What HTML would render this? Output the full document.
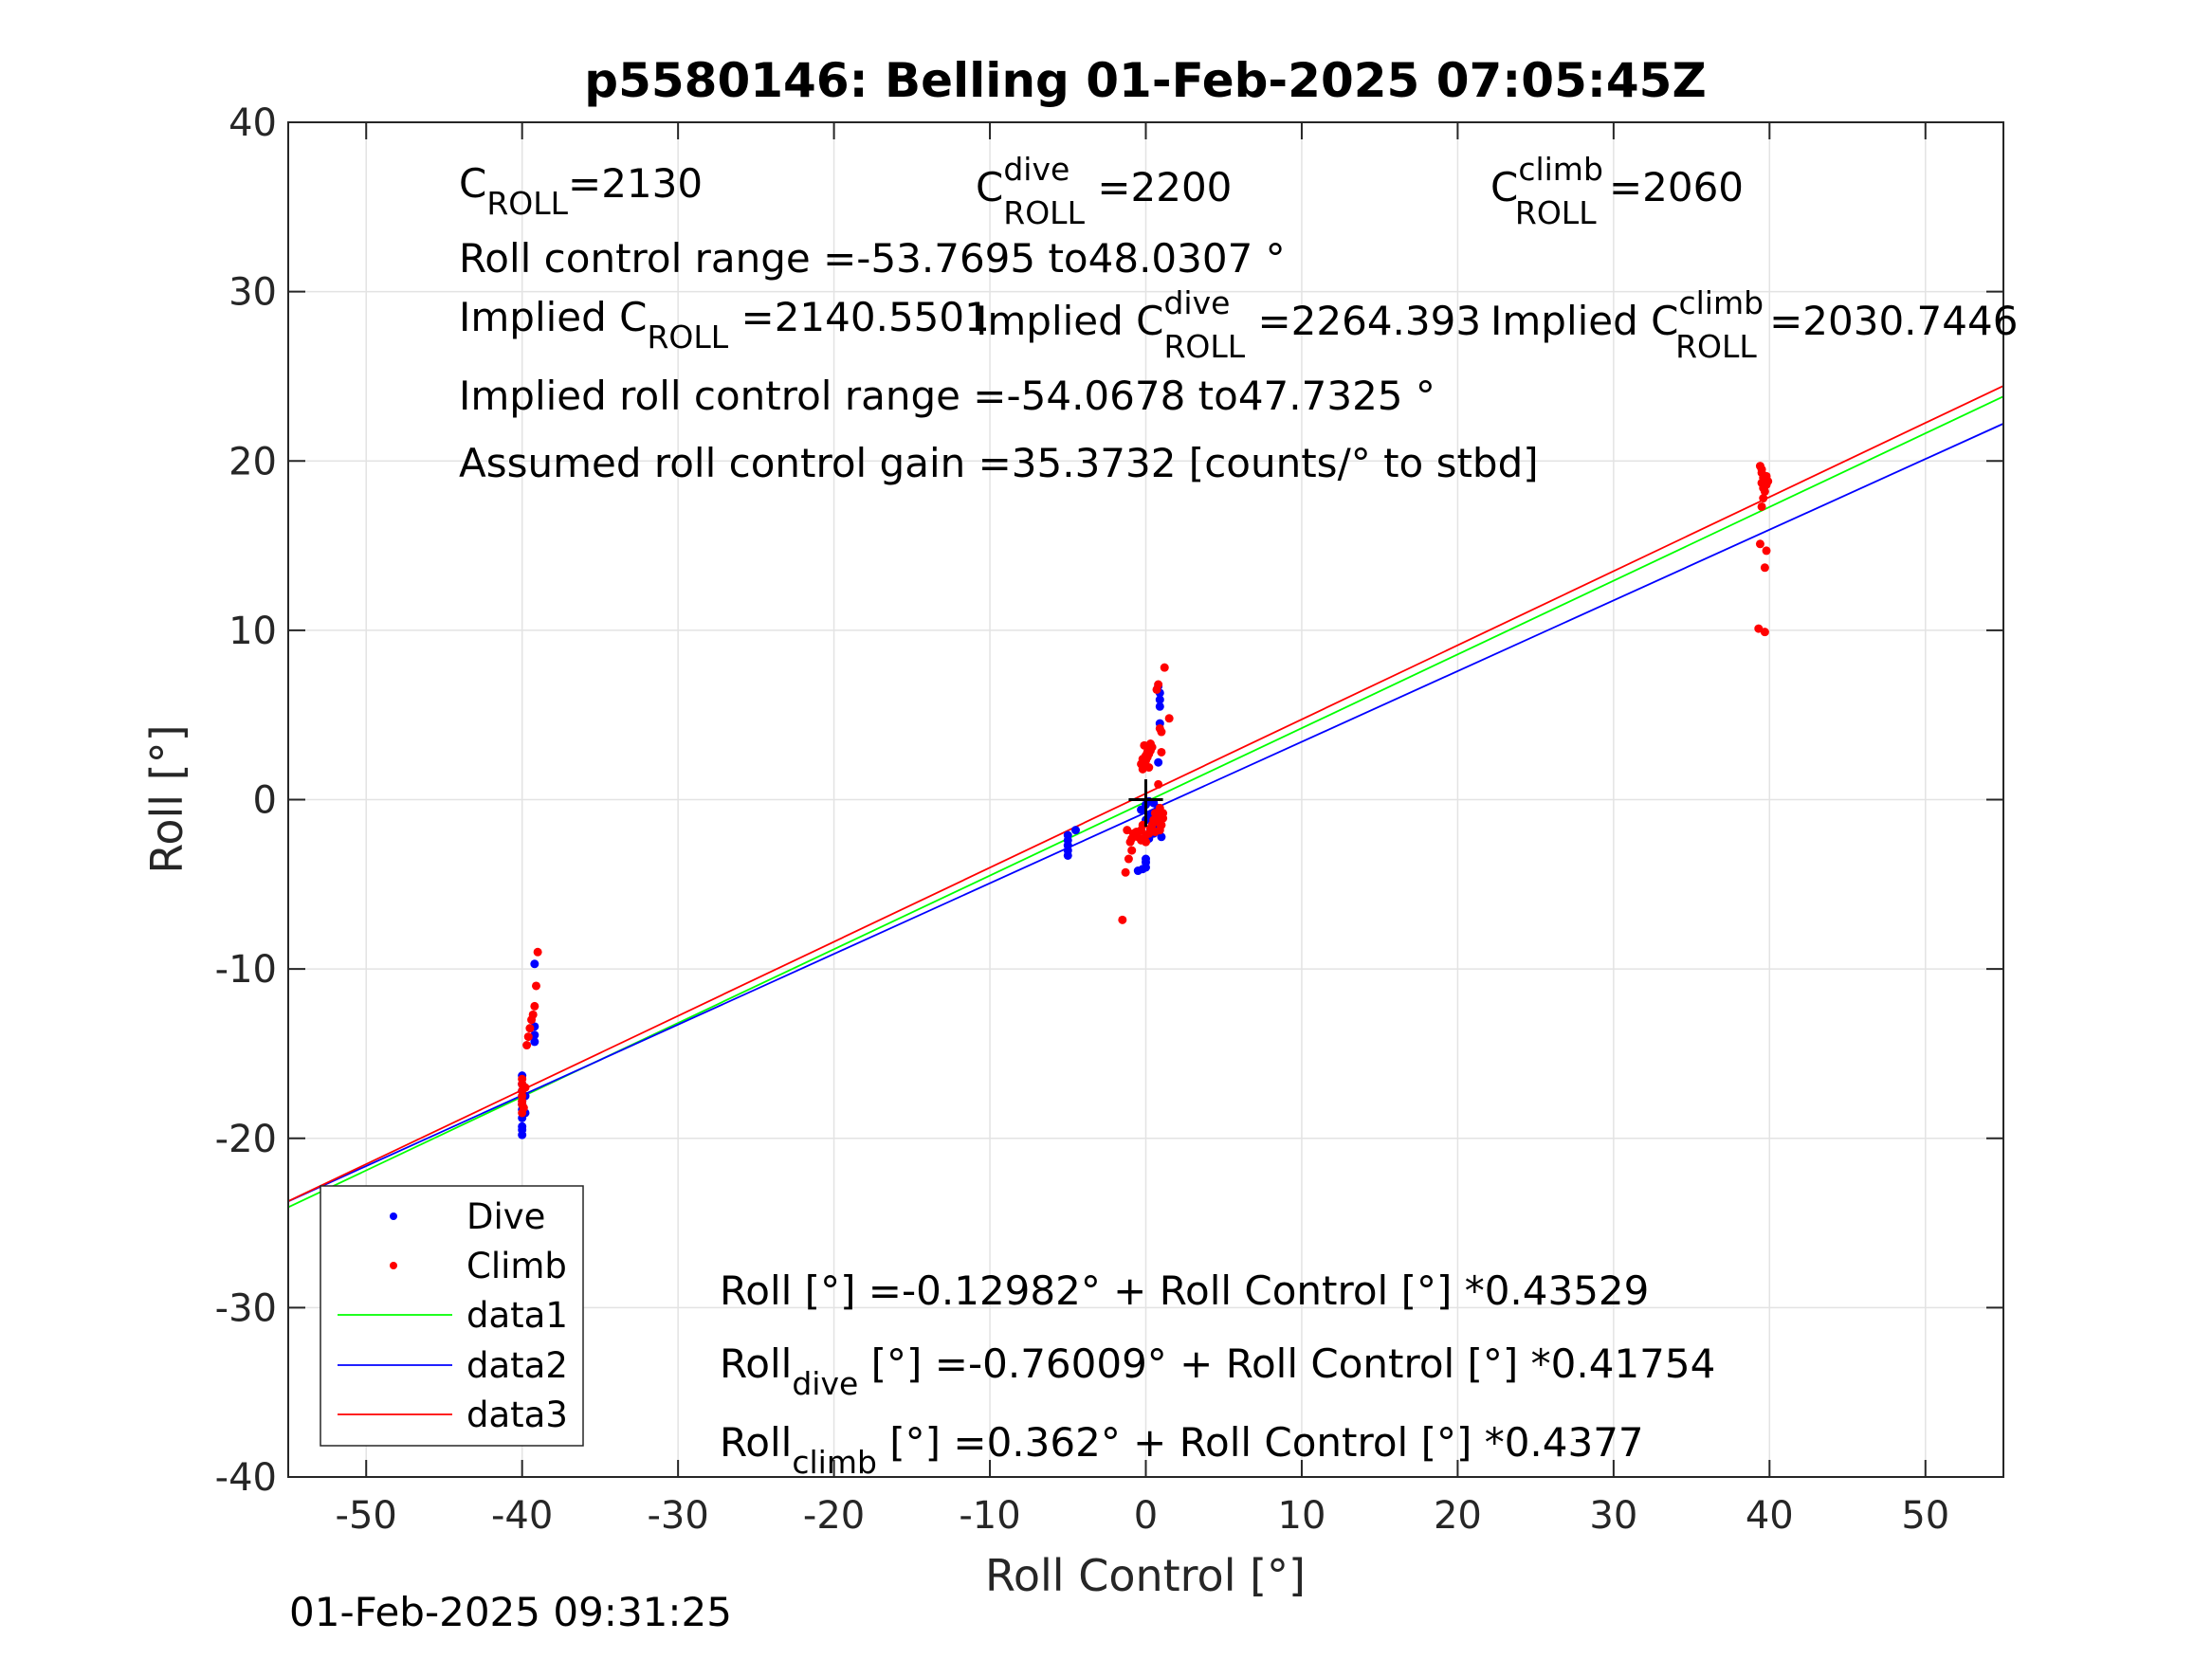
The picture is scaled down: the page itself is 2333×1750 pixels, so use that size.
<!DOCTYPE html>
<html><head><meta charset="utf-8"><style>
html,body{margin:0;padding:0;background:#fff;}
svg{display:block;font-family:"DejaVu Sans","Liberation Sans",sans-serif;}
</style></head><body>
<svg id="chart" width="2333" height="1750" viewBox="0 0 2333 1750" xmlns="http://www.w3.org/2000/svg">
<rect width="2333" height="1750" fill="#fff"/>
<g id="grid"></g>
<g id="lines"></g>
<g id="pts"></g>
<g id="axes"></g>
<text x="1208" y="102" text-anchor="middle" font-size="50" font-weight="bold">p5580146: Belling 01-Feb-2025 07:05:45Z</text>
<text x="1208" y="1678" text-anchor="middle" font-size="46" fill="#262626">Roll Control [°]</text>
<text transform="translate(192,843) rotate(-90)" text-anchor="middle" font-size="46" fill="#262626">Roll [°]</text>
<text x="305" y="1715" font-size="42">01-Feb-2025 09:31:25</text>
<g font-size="42" fill="#000">
<text x="484" y="208">C<tspan font-size="33" dy="18">ROLL</tspan><tspan dy="-18">=2130</tspan></text>
<text x="1029" y="212">C<tspan font-size="33" dy="-22">dive</tspan><tspan font-size="33" dx="-70" dy="46">ROLL</tspan><tspan dy="-24"> =2200</tspan></text>
<text x="1572" y="212">C<tspan font-size="33" dy="-22">climb</tspan><tspan font-size="33" dx="-93" dy="46">ROLL</tspan><tspan dy="-24"> =2060</tspan></text>
<text x="484" y="287">Roll control range =-53.7695 to48.0307 °</text>
<text x="484" y="349">Implied C<tspan font-size="33" dy="18">ROLL</tspan><tspan dy="-18"> =2140.5501</tspan></text>
<text x="1029" y="353">Implied C<tspan font-size="33" dy="-22">dive</tspan><tspan font-size="33" dx="-70" dy="46">ROLL</tspan><tspan dy="-24"> =2264.393</tspan></text>
<text x="1572" y="353">Implied C<tspan font-size="33" dy="-22">climb</tspan><tspan font-size="33" dx="-93" dy="46">ROLL</tspan><tspan dy="-24"> =2030.7446</tspan></text>
<text x="484" y="432">Implied roll control range =-54.0678 to47.7325 °</text>
<text x="484" y="503">Assumed roll control gain =35.3732 [counts/° to stbd]</text>
<text x="759" y="1376">Roll [°] =-0.12982° + Roll Control [°] *0.43529</text>
<text x="759" y="1453">Roll<tspan font-size="33" dy="18">dive</tspan><tspan dy="-18"> [°] =-0.76009° + Roll Control [°] *0.41754</tspan></text>
<text x="759" y="1536">Roll<tspan font-size="33" dy="18">climb</tspan><tspan dy="-18"> [°] =0.362° + Roll Control [°] *0.4377</tspan></text>
</g>
<g>
<rect x="338" y="1251" width="277" height="274" fill="#fff" stroke="#262626" stroke-width="1.5"/>
<circle cx="415" cy="1283" r="4" fill="#00f"/>
<text x="492" y="1296" font-size="37">Dive</text>
<circle cx="415" cy="1335" r="4" fill="#f00"/>
<text x="492" y="1348" font-size="37">Climb</text>
<line x1="356" y1="1387" x2="477" y2="1387" stroke="#0f0" stroke-width="1.8"/>
<text x="492" y="1400" font-size="37">data1</text>
<line x1="356" y1="1440" x2="477" y2="1440" stroke="#00f" stroke-width="1.8"/>
<text x="492" y="1453" font-size="37">data2</text>
<line x1="356" y1="1492" x2="477" y2="1492" stroke="#f00" stroke-width="1.8"/>
<text x="492" y="1505" font-size="37">data3</text>
</g>
</svg>
<script>
const xTicks=[-50,-40,-30,-20,-10,0,10,20,30,40,50];
const yTicks=[-40,-30,-20,-10,0,10,20,30,40];
const fitIntercepts=[-0.12982,-0.76009,0.362];
const fitSlopes=[0.43529,0.41754,0.4377];
const fitColors=['#0f0','#00f','#f00'];
const diveX=[-40,-40,-40,-40,-40,-40,-40,-40,-40,-40,-39.8,-39.8,-39.2,-39.2,-39.2,-39.2,-5,-5,-5,-5,-5,-4.5,-0.5,-0.2,0,0,0,0.2,0.3,0,-0.3,0.5,0.8,0.9,0.9,0.9,0.9,0.8,1,0.5,0.3,0,0.5,0.8,1,0.2,0.6];
const diveY=[-19.8,-19.5,-19.3,-18.8,-18.3,-17.8,-17.2,-16.8,-16.3,-18,-17.5,-18.5,-13.4,-13.9,-14.3,-9.7,-3.3,-3,-2.7,-2.4,-2.1,-1.8,-4.2,-4.1,-4,-3.7,-3.5,-2.3,-1.8,-1.2,-0.6,-0.2,2.2,4.5,5.5,5.9,6.3,6.7,-2.2,-1.5,-0.9,-0.3,-2,-0.5,-1,-0.1,-1.2];
const climbX=[-40,-40,-40,-40,-40,-40,-40,-39.9,-39.8,-39.7,-39.6,-39.5,-39.4,-39.3,-39.2,-39.1,-39,-1.5,-1.3,-1.1,-0.9,-1,-0.8,-0.5,-0.3,-0.2,0,0.2,0.4,0.5,0.7,0.9,1,1.1,-1.2,-0.9,-0.6,-0.3,0,0.3,0.6,0.9,1.1,-0.2,-0.1,0,0.1,0.2,0.3,0.4,-0.3,-0.2,0,0.1,0.3,0.2,-0.1,0.8,0.9,1,1.5,0.7,0.8,1.2,1,0.9,0.6,0.9,39.4,39.5,39.6,39.5,39.6,39.7,39.8,39.9,39.6,39.5,39.7,39.4,39.8,39.7,39.3,39.7,39.5,39.8];
const climbY=[-18.5,-18,-17.5,-17.2,-16.8,-16.5,-17.8,-18.2,-17,-14.5,-14,-13.5,-13,-12.7,-12.2,-11,-9,-7.1,-4.3,-3.5,-3,-2.5,-2,-2.2,-1.8,-1.5,-2.5,-2,-1.5,-1.2,-1,-1.2,-1.5,-0.8,-1.8,-2.3,-1.9,-2.4,-2.1,-1.7,-1.9,-1.4,-1.1,1.8,2.1,2.3,2.5,2.7,2.9,3.1,2.1,2.4,2.6,2.8,3.3,1.9,3.2,0.9,4.2,4,4.8,6.5,6.8,7.8,2.8,-0.5,-0.8,-1.8,19.7,19.3,19,18.7,18.4,18.9,19.1,18.8,17.8,17.3,18.2,15.1,14.7,13.7,10.1,9.9,19.5,18.6];
const L=304,R=2113,T=129,B=1558,XMIN=-55,XMAX=55,YMIN=-40,YMAX=40;
const sx=v=>L+(v-XMIN)/(XMAX-XMIN)*(R-L);
const sy=v=>B-(v-YMIN)/(YMAX-YMIN)*(B-T);
const NS='http://www.w3.org/2000/svg';
function mk(tag,attrs,parent){const e=document.createElementNS(NS,tag);for(const k in attrs)e.setAttribute(k,attrs[k]);parent.appendChild(e);return e;}
const grid=document.getElementById('grid'),axes=document.getElementById('axes'),lines=document.getElementById('lines'),pts=document.getElementById('pts');
xTicks.forEach(v=>{
  const g=mk('line',{x1:sx(v),x2:sx(v),y1:T,y2:B,stroke:'#e3e3e3','stroke-width':1.5},grid);
  
  
  mk('line',{x1:sx(v),x2:sx(v),y1:B,y2:B-18,stroke:'#262626','stroke-width':2},axes);
  mk('line',{x1:sx(v),x2:sx(v),y1:T,y2:T+18,stroke:'#262626','stroke-width':2},axes);
  const t=mk('text',{x:sx(v),y:B+54,'text-anchor':'middle','font-size':40,fill:'#262626'},axes);
  t.textContent=v;
  
  
});
yTicks.forEach(v=>{
  const g=mk('line',{x1:L,x2:R,y1:sy(v),y2:sy(v),stroke:'#e3e3e3','stroke-width':1.5},grid);
  
  
  mk('line',{x1:L,x2:L+18,y1:sy(v),y2:sy(v),stroke:'#262626','stroke-width':2},axes);
  mk('line',{x1:R,x2:R-18,y1:sy(v),y2:sy(v),stroke:'#262626','stroke-width':2},axes);
  const t=mk('text',{x:L-12,y:sy(v)+14,'text-anchor':'end','font-size':40,fill:'#262626'},axes);
  t.textContent=v;
  
  
});
const box=mk('rect',{x:L,y:T,width:R-L,height:B-T,fill:'none',stroke:'#262626','stroke-width':2},axes);


fitIntercepts.forEach((b,i)=>{
  const m=fitSlopes[i];
  const ln=mk('line',{x1:sx(XMIN),y1:sy(b+m*XMIN),x2:sx(XMAX),y2:sy(b+m*XMAX),stroke:fitColors[i],'stroke-width':1.8},lines);
  
  
});
diveX.forEach((x,i)=>{
  const c=mk('circle',{cx:sx(x),cy:sy(diveY[i]),r:4.5,fill:'#00f'},pts);
  
  
});
climbX.forEach((x,i)=>{
  const c=mk('circle',{cx:sx(x),cy:sy(climbY[i]),r:4.5,fill:'#f00'},pts);
  
  
});
const ch=mk('line',{x1:sx(-1.1),x2:sx(1.1),y1:sy(0),y2:sy(0),stroke:'#000','stroke-width':3},pts);


const cv=mk('line',{x1:sx(0),x2:sx(0),y1:sy(1.2),y2:sy(-1.6),stroke:'#000','stroke-width':3},pts);


</script>
</body></html>
